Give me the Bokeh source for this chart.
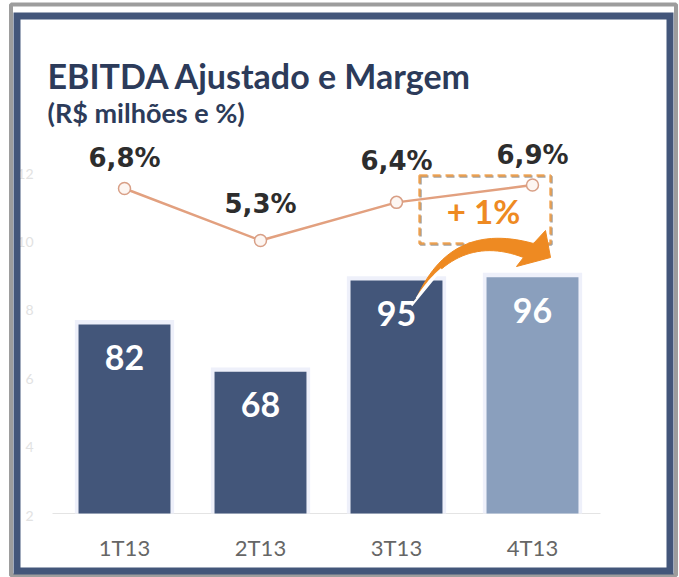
import numpy as np
from bokeh.plotting import figure
from bokeh.models import Range1d
from bokeh.core.properties import value
from bokeh.embed import file_html
from bokeh.resources import INLINE

# ---------------- data ----------------
quarters = ["1T13", "2T13", "3T13", "4T13"]
ebitda = [82, 68, 95, 96]            # R$ milhões
margin = [6.8, 5.3, 6.4, 6.9]        # %
ghost_ticks = [2, 4, 6, 8, 10, 12]
title_text = "EBITDA Ajustado e Margem"
subtitle_text = "(R$ milhões e %)"
change_text = "+ 1%"

# ---------------- layout constants ----------------
W, H = 679, 577
X_START = 0.5 - 124 / 136.0
X_END = X_START + W / 136.0
Y_END = 82 + 324 / 3.38
Y_START = Y_END - H / 3.38
P_END = 6.8 + 188 / 34.67
P_START = P_END - H / 34.67
G_END = 12 + 173 / 34.2
G_START = G_END - H / 34.2

def X(ax):
    return X_START + ax * (X_END - X_START) / W

def Y(ay):
    return Y_END - ay * (Y_END - Y_START) / H

BASE = Y(513)
NAVY = "#43567a"
TITLE_C = "#2c3b5a"
ORANGE = "#ee8a22"

p = figure(width=W, height=H, x_range=Range1d(X_START, X_END), y_range=Range1d(Y_START, Y_END),
           output_backend="svg", toolbar_location=None, min_border=0,
           x_axis_location=None, y_axis_location=None, title=None)
p.extra_y_ranges = {"pct": Range1d(P_START, P_END), "ghost": Range1d(G_START, G_END)}
p.grid.visible = False
p.outline_line_color = None
p.background_fill_color = "white"
p.border_fill_color = "white"

xs = [i + 0.5 for i in range(len(quarters))]

# ghost axis labels (very faint)
p.text(x=[X(33)] * len(ghost_ticks), y=ghost_ticks, text=[str(t) for t in ghost_ticks],
       y_range_name="ghost", text_font=value("Lato"), text_font_size="14px",
       text_color="#e2e2e2", text_align="right", text_baseline="middle")

# frame
p.quad(left=[X(10.5)], right=[X(675.5)], top=[Y(4)], bottom=[Y(575)], fill_color=None,
       line_color="#9d9d9d", line_width=4)
p.quad(left=[X(16.5)], right=[X(669.5)], top=[Y(15.5)], bottom=[Y(570.5)], fill_color=None,
       line_color=NAVY, line_width=7, line_join="miter")

# titles
p.text(x=[X(47)], y=[Y(75)], text=[title_text], text_font=value("Lato"), text_font_style="bold",
       text_font_size="34px", text_color=TITLE_C, text_align="left", text_baseline="alphabetic")
p.text(x=[X(47)], y=[Y(112)], text=[subtitle_text], text_font=value("Lato"), text_font_style="bold",
       text_font_size="27px", text_color=TITLE_C, text_align="left", text_baseline="alphabetic")

# baseline
p.line(x=[X(52), X(600)], y=[BASE, BASE], line_color="#e4e4e4", line_width=1)

# bars with halo
bar_colors = [NAVY, NAVY, NAVY, "#8a9fbd"]
p.vbar(x=xs, top=[v + 1.3 for v in ebitda], bottom=BASE, width=0.73,
       fill_color="#eef0fa", line_color=None)
p.vbar(x=xs, top=ebitda, bottom=BASE, width=0.676, fill_color=bar_colors, line_color=None)
p.text(x=xs, y=ebitda, text=[str(v) for v in ebitda], y_offset=33,
       text_font=value("Lato"), text_font_style="bold", text_font_size="34px",
       text_color="white", text_align="center", text_baseline="middle")

# x labels
p.text(x=xs, y=[Y(547)] * len(xs), text=quarters, text_font=value("Lato"),
       text_font_size="22px", text_color="#666666", text_align="center", text_baseline="middle")

# margin line
p.line(x=xs, y=margin, y_range_name="pct", line_color="#e2a07f", line_width=2.5)
p.scatter(x=xs, y=margin, y_range_name="pct", size=12, fill_color="#fdf6f2",
          line_color="#d89f86", line_width=1.5)
label_dy = [-31, -37, -41, -30]
p.text(x=xs, y=margin, y_range_name="pct", y_offset=label_dy,
       text=[f"{m:.1f}".replace(".", ",") + "%" for m in margin],
       text_font=value("DejaVu Sans"), text_font_style="bold", text_font_size="26px",
       text_color="#2d2d2d", text_align="center", text_baseline="middle")

# dashed highlight box
p.quad(left=[X(420)], right=[X(551)], top=[Y(176)], bottom=[Y(244)], fill_color=None,
       line_color="#a3a3a3", line_width=2.5, line_dash="8 5")
p.quad(left=[X(419)], right=[X(550)], top=[Y(175)], bottom=[Y(243)], fill_color=None,
       line_color="#f09a40", line_width=2.5, line_dash="8 5", line_alpha=0.85)
p.text(x=[X(483)], y=[Y(210)], text=[change_text], text_font=value("Lato"), text_font_style="bold",
       text_font_size="33px", text_color=ORANGE, text_align="center", text_baseline="middle")

# curved arrow
def bez(p0, p1, p2, n=30):
    t = np.linspace(0, 1, n)[:, None]
    return (1 - t) ** 2 * np.array(p0) + 2 * (1 - t) * t * np.array(p1) + t ** 2 * np.array(p2)

upper = bez((416, 298), (450, 220), (533, 243))
lower = bez((416, 298), (458, 232), (523, 257))
head = np.array([(545, 230), (550, 257), (516, 266)])
poly = np.vstack([upper, head, lower[::-1]])
p.patch(x=[X(a) for a in poly[:, 0]], y=[Y(b) for b in poly[:, 1]],
        fill_color=ORANGE, line_color=ORANGE, line_width=1)
tail = lower[:9]
p.line(x=[X(a) for a in np.r_[tail[:, 0], 411]], y=[Y(b) for b in np.r_[tail[:, 1], 305]],
       line_color="white", line_width=2)

open("out.html", "w").write(file_html(p, INLINE))
